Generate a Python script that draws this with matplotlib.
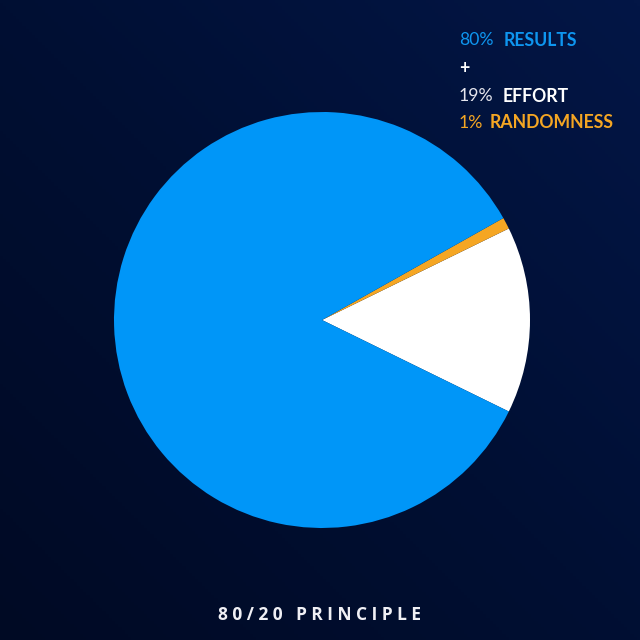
import numpy as np
import matplotlib.pyplot as plt
from matplotlib.colors import LinearSegmentedColormap

# Datos (ángulos de las porciones)
categorias = ['Effort', 'Randomness', 'Results']
valores = [14.5, 0.9, 84.6]
colores = ['#ffffff', '#f5a623', '#0096f8']

# Textos de la leyenda
leyenda = [
    [('80%', '#0e96f0', 'normal'), ('RESULTS', '#0e96f0', 'bold')],
    [('+', '#ffffff', 'bold')],
    [('19%', '#e6e6ee', 'normal'), ('EFFORT', '#ffffff', 'bold')],
    [('1%', '#f5a623', 'normal'), ('RANDOMNESS', '#f5a623', 'bold')],
]
titulo = '80/20 PRINCIPLE'

W = H = 640
fig = plt.figure(figsize=(6.4, 6.4), dpi=100)

# Fondo con degradado azul oscuro (más claro arriba a la derecha)
fondo = fig.add_axes([0, 0, 1, 1])
yy, xx = np.mgrid[0:1:200j, 0:1:200j]
grad = np.clip(0.5 * xx + 0.5 * (1 - yy), 0, 1)
cmap = LinearSegmentedColormap.from_list('bg', ['#000a24', '#000f33', '#031646'])
fondo.imshow(grad, cmap=cmap, extent=[0, 1, 0, 1], aspect='auto', origin='upper')
fondo.set_axis_off()

# Pastel: centro (322, 320) px, radio 208 px
cx, cy, r = 322, 320, 208
ax = fig.add_axes([(cx - r) / W, (H - cy - r) / H, 2 * r / W, 2 * r / H])
ax.pie(valores, colors=colores, startangle=-26.1, counterclock=True,
       wedgeprops=dict(linewidth=0), radius=1)
ax.set_xlim(-1, 1)
ax.set_ylim(-1, 1)
ax.set_axis_off()

# Leyenda en la esquina superior derecha
pos_y = [40, 68, 96, 123]
pos_x = [[459, 504], [459], [459, 503], [459, 490]]
for fila, y, xs in zip(leyenda, pos_y, pos_x):
    for (txt, col, peso), x in zip(fila, xs):
        fig.text(x / W, 1 - y / H, txt, color=col, fontweight=peso,
                 fontsize=12.7, family='Lato', va='center', ha='left')

# Título inferior con espaciado entre letras
fig.text(319 / W, 1 - 615 / H, ' '.join(titulo), color='#f0f0f5',
         fontweight='bold', fontsize=12.5, family='Open Sans',
         ha='center', va='center')

plt.savefig('out.png', dpi=100)
